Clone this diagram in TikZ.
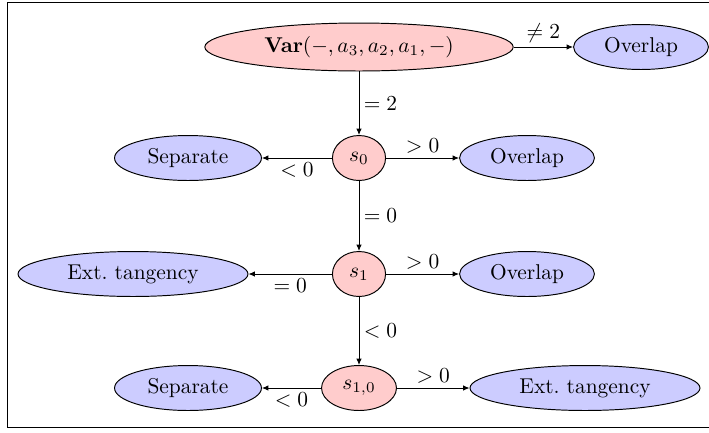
\documentclass[tikz,border=0pt]{standalone}
\usetikzlibrary{shapes.geometric,arrows.meta}
\begin{document}
\begin{tikzpicture}[x=0.467pt,y=-0.467pt,line width=0.45pt,
  base/.style={ellipse,draw,inner sep=0pt,minimum height=21pt},
  redn/.style={base,fill=red!20},
  bluen/.style={base,fill=blue!20},
  arr/.style={-{Latex[length=3pt,width=2.6pt]}},
  lab/.style={inner sep=2pt}]
\useasboundingbox (0,0) rectangle (709,432);
\draw (7,2) rectangle (715,427);
\node[redn,minimum width=144pt,minimum height=22.4pt] (var) at (359,47) {$\mathbf{Var}(-,a_3,a_2,a_1,-)$};
\node[bluen,minimum width=63pt] (ov0) at (641,47) {Overlap};
\node[redn,minimum width=24.8pt] (s0) at (359,158) {$s_0$};
\node[bluen,minimum width=68.6pt] (sep1) at (188,158) {Separate};
\node[bluen,minimum width=63pt] (ov1) at (527,158) {Overlap};
\node[redn,minimum width=24.8pt] (s1) at (359,274) {$s_1$};
\node[bluen,minimum width=107.4pt] (ext1) at (133,274) {Ext.\ tangency};
\node[bluen,minimum width=63pt] (ov2) at (527,274) {Overlap};
\node[redn,minimum width=35pt] (s10) at (359,388) {$s_{1,0}$};
\node[bluen,minimum width=68.6pt] (sep2) at (188,388) {Separate};
\node[bluen,minimum width=107.4pt] (ext2) at (585,388) {Ext.\ tangency};
\draw[arr] (var) -- node[lab,above]{$\neq 2$} (ov0);
\draw[arr] (var) -- node[lab,right]{$=2$} (s0);
\draw[arr] (s0) -- node[lab,above]{$>0$} (ov1);
\draw[arr] (s0) -- node[lab,below]{$<0$} (sep1);
\draw[arr] (s0) -- node[lab,right]{$=0$} (s1);
\draw[arr] (s1) -- node[lab,above]{$>0$} (ov2);
\draw[arr] (s1) -- node[lab,below]{$=0$} (ext1);
\draw[arr] (s1) -- node[lab,right]{$<0$} (s10);
\draw[arr] (s10) -- node[lab,above]{$>0$} (ext2);
\draw[arr] (s10) -- node[lab,below]{$<0$} (sep2);
\end{tikzpicture}
\end{document}
